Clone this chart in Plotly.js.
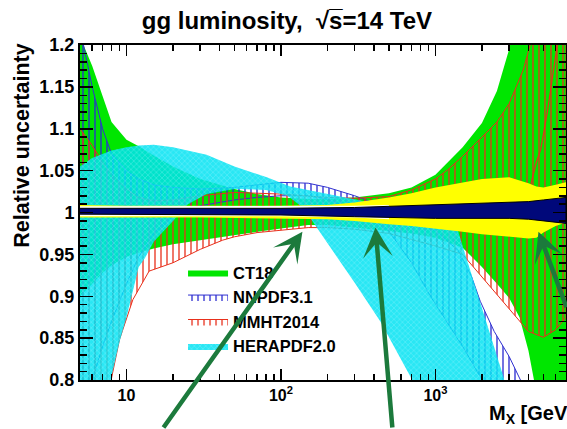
<!DOCTYPE html>
<html><head><meta charset="utf-8">
<script src="https://cdn.plot.ly/plotly-3.0.1.min.js"></script>
<style>html,body{margin:0;padding:0;background:#fff;}#chart{width:567px;height:429px;}</style>
</head><body><div id="chart"></div>
<script>
// ---- CT18 band ----
var ctUpM = [5,6,7,8,10,12,15,20,30,50,70,100,150,200,300,500,700,1000,1500,2000,2500,3000,3500,4000,5000,7000];
var ctUp  = [1.21,1.175,1.139,1.108,1.087,1.079,1.068,1.055,1.04,1.028,1.022,1.018,1.016,1.016,1.018,1.023,1.03,1.045,1.078,1.107,1.145,1.195,1.25,1.3,1.4,1.5];
var ctLoM = [5,6,7,8,10,12,15,20,30,50,70,100,150,200,300,500,700,1000,1500,2000,2500,3000,3500,4000,5000,7000];
var ctLo  = [0.9,0.915,0.928,0.937,0.947,0.952,0.957,0.962,0.967,0.973,0.977,0.981,0.985,0.985,0.982,0.978,0.975,0.97,0.958,0.935,0.915,0.898,0.875,0.835,0.74,0.6];
// ---- NNPDF3.1 band ----
var nnUpM = [5,6,7,8,10,12,15,20,30,50,70,100,150,200,300,500,700,1000,1400,1700,1950,2400,3000,3550,4500,7000];
var nnUp  = [1.22,1.15,1.1,1.07,1.05,1.04,1.033,1.03,1.028,1.03,1.033,1.036,1.035,1.03,1.02,1.005,0.995,0.978,0.955,0.925,0.894,0.858,0.828,0.8,0.75,0.65];
var nnLoM = [5,6,7,8,10,12,15,20,30,50,70,100,150,200,300,489,700,928,1500,1950,2500,7000];
var nnLo  = [0.75,0.8,0.84,0.87,0.915,0.947,0.975,0.995,1.008,1.015,1.018,1.02,1.02,1.016,1.002,0.98,0.94,0.9,0.84,0.804,0.77,0.6];
// ---- MMHT2014 band ----
var mmUpM = [5,6,7,8,10,12,15,20,30,50,100,200,300,500,700,1000,1200,1500,2000,2500,3000,3700,4100,4500,5000,6000,7000];
var mmUp  = [1.1,1.08,1.06,1.045,1.028,1.018,1.014,1.015,1.02,1.024,1.022,1.018,1.017,1.019,1.027,1.04,1.051,1.067,1.09,1.108,1.13,1.17,1.2,1.25,1.3,1.4,1.5];
var mmLoM = [5,6,7,8,9,11,14,20,30,42,50,70,100,150,200,300,500,700,1000,1500,2000,2925,4000,5000,6000,7000];
var mmLo  = [0.6,0.68,0.75,0.805,0.848,0.896,0.93,0.94,0.956,0.967,0.971,0.976,0.979,0.982,0.982,0.98,0.975,0.968,0.96,0.95,0.922,0.887,0.858,0.851,0.86,0.875];
var mm2M  = [4000,4100,4500,4800,5300,5800,6200,7000];
var mm2   = [1.025,1.03,1.06,1.075,1.12,1.17,1.205,1.3];
// ---- HERAPDF2.0 band ----
var hpUpM = [5,6,8,10,12,15,20,33,50,81,115,243,489,800,1000,1388,2000,2755,3500];
var hpUp  = [1.055,1.065,1.074,1.078,1.08,1.081,1.078,1.069,1.055,1.042,1.031,1.019,1.007,1.0,0.995,0.98,0.886,0.804,0.72];
var hpLoM = [5,6,7,7.9,9,10,12,13.2,15,20,25,33,50,80,110,130,150,165,209,300,440,689,900];
var hpLo  = [0.7,0.73,0.77,0.8,0.845,0.875,0.935,0.946,0.965,0.99,1.01,1.022,1.028,1.027,1.02,1.01,0.997,0.985,0.958,0.916,0.87,0.804,0.75];
// ---- yellow / white / navy central bands ----
var yeM  = [5,10,30,100,200,300,500,700,1000,1500,2000,3000,4000,4500,5000,6000,7000];
var yeUp = [1.009,1.008,1.008,1.008,1.009,1.012,1.018,1.023,1.03,1.036,1.04,1.042,1.035,1.031,1.03,1.033,1.036];
var yeLo = [0.994,0.994,0.994,0.993,0.992,0.99,0.986,0.984,0.981,0.977,0.974,0.971,0.969,0.97,0.976,0.984,0.988];
var whM  = [5,100,300,500];
var whUp = [1.0075,1.0075,1.008,1.009];
var whLo = [0.9955,0.9955,0.994,0.992];
var nvM  = [5,100,300,1000,2000,3000,4000,5000,7000];
var nvUp = [1.005,1.005,1.006,1.009,1.011,1.012,1.013,1.015,1.018];
var nvLo = [0.998,0.997,0.995,0.993,0.993,0.993,0.992,0.99,0.987];

var xTickVals = [10,100,1000];
var xTickText = ['10','10<sup>2</sup>','10<sup>3</sup>'];
var xMinor = [6,7,8,9,20,30,40,50,60,70,80,90,200,300,400,500,600,700,800,900,2000,3000,4000,5000,6000,7000];
var yTickVals = [0.8,0.85,0.9,0.95,1.0,1.05,1.1,1.15,1.2];
var yTickText = ['0.8','0.85','0.9','0.95','1','1.05','1.1','1.15','1.2'];

function band(xu, yu, xl, yl) {
  return {x: xu.concat(xl.slice().reverse()), y: yu.concat(yl.slice().reverse())};
}
var FONT = 'Liberation Sans, Arial, Helvetica, sans-serif';

var bCT = band(ctUpM, ctUp, ctLoM, ctLo);
var bNN = band(nnUpM, nnUp, nnLoM, nnLo);
var bMM = band(mmUpM, mmUp, mmLoM, mmLo);
var bHP = band(hpUpM, hpUp, hpLoM, hpLo);
var bYE = band(yeM, yeUp, yeM, yeLo);
var bWH = band(whM, whUp, whM, whLo);
var bNV = band(nvM, nvUp, nvM, nvLo);

var traces = [
  {x: bCT.x, y: bCT.y, type:'scatter', mode:'lines', fill:'toself', fillcolor:'#00e600',
   line:{width:0, color:'#00e600'}, name:'<b>CT18</b>', hoverinfo:'skip'},
  {x: bNN.x, y: bNN.y, type:'scatter', mode:'lines', fill:'toself', fillcolor:'rgba(0,0,0,0)',
   fillpattern:{shape:'|', fgcolor:'#2a2ad0', size:6, solidity:0.22},
   line:{width:1, color:'#3030d0'}, name:'<b>NNPDF3.1</b>', hoverinfo:'skip'},
  {x: bMM.x, y: bMM.y, type:'scatter', mode:'lines', fill:'toself', fillcolor:'rgba(0,0,0,0)',
   fillpattern:{shape:'|', fgcolor:'#e8301c', size:6, solidity:0.22},
   line:{width:1, color:'#e8301c'}, name:'<b>MMHT2014</b>', hoverinfo:'skip'},
  {x: mm2M, y: mm2, type:'scatter', mode:'lines', line:{width:1.2, color:'#e8301c'},
   showlegend:false, hoverinfo:'skip'},
  {x: bHP.x, y: bHP.y, type:'scatter', mode:'lines', fill:'toself', fillcolor:'rgba(0,226,242,0.84)',
   fillpattern:{shape:'x', fgcolor:'rgba(170,245,255,0.8)', bgcolor:'rgba(0,226,242,0.84)', size:4, solidity:0.3, fillmode:'overlay'},
   line:{width:0, color:'rgba(0,226,242,0.84)'}, name:'<b>HERAPDF2.0</b>', hoverinfo:'skip'},
  {x: bYE.x, y: bYE.y, type:'scatter', mode:'lines', fill:'toself', fillcolor:'#ffff00',
   line:{width:0, color:'#ffff00'}, showlegend:false, hoverinfo:'skip'},
  {x: bWH.x, y: bWH.y, type:'scatter', mode:'lines', fill:'toself', fillcolor:'#ffffff',
   line:{width:0, color:'#ffffff'}, showlegend:false, hoverinfo:'skip'},
  {x: bNV.x, y: bNV.y, type:'scatter', mode:'lines', fill:'toself', fillcolor:'#00087a',
   line:{width:1, color:'#000000'}, showlegend:false, hoverinfo:'skip'}
];

var arrowColor = '#1c7a3c';
var layout = {
  width:567, height:429,
  margin:{l:80, r:1, t:45, b:49},
  paper_bgcolor:'#ffffff', plot_bgcolor:'#ffffff',
  font:{family:FONT, color:'#000'},
  title:{text:'gg luminosity,\u00a0\u00a0\u221as\u0305=14 TeV',
         font:{size:24, weight:'bold', family:FONT, color:'#000'},
         x:0.506, xref:'container', xanchor:'center', y:0.953, yref:'container', yanchor:'middle'},
  xaxis:{type:'log', range:[Math.log10(5), Math.log10(7000)], tickmode:'array', tickvals:xTickVals, ticktext:xTickText,
         ticks:'inside', ticklen:11, tickwidth:1.5, tickcolor:'#000', showline:true, linewidth:2, linecolor:'#000',
         mirror:'ticks', showgrid:false, zeroline:false,
         tickfont:{size:16, weight:'bold', family:FONT, color:'#000'},
         minor:{tickmode:'array', tickvals:xMinor, ticks:'inside', ticklen:6, tickwidth:1.5, tickcolor:'#000', showgrid:false}},
  yaxis:{range:[0.8,1.2], tickmode:'array', tickvals:yTickVals, ticktext:yTickText,
         ticks:'inside', ticklen:13, tickwidth:1.5, tickcolor:'#000', showline:true, linewidth:2, linecolor:'#000',
         mirror:'ticks', showgrid:false, zeroline:false,
         tickfont:{size:18, weight:'bold', family:FONT, color:'#000'},
         minor:{dtick:0.01, tick0:0.8, ticks:'inside', ticklen:7, tickwidth:1.5, tickcolor:'#000', showgrid:false}},
  showlegend:true,
  legend:{x:0.212, y:0.372, xanchor:'left', yanchor:'top', bgcolor:'rgba(0,0,0,0)', borderwidth:0,
          font:{size:16.5, family:FONT, color:'#000'}, itemwidth:40, traceorder:'normal'},
  annotations:[
    {text:'Relative uncertainty', textangle:-90, showarrow:false, xref:'paper', yref:'paper',
     x:-0.121, y:0.700, xanchor:'center', yanchor:'middle', font:{size:21.5, weight:'bold', family:FONT, color:'#000'}},
    {text:'M<sub>X</sub> [GeV]', showarrow:false, xref:'paper', yref:'paper', x:0.837, y:-0.1015,
     xanchor:'left', yanchor:'middle', font:{size:20, weight:'bold', family:FONT, color:'#000'}},
    {text:'', x:Math.log10(137.7), y:0.977, xref:'x', yref:'y', showarrow:true, ax:-140, ay:206,
     arrowcolor:arrowColor, arrowwidth:4.5, arrowhead:3, arrowsize:1.1},
    {text:'', x:Math.log10(409), y:0.982, xref:'x', yref:'y', showarrow:true, ax:17, ay:210,
     arrowcolor:arrowColor, arrowwidth:4.5, arrowhead:3, arrowsize:1.1},
    {text:'', x:Math.log10(4645), y:0.977, xref:'x', yref:'y', showarrow:true, ax:37, ay:77,
     arrowcolor:arrowColor, arrowwidth:4.5, arrowhead:3, arrowsize:1.1}
  ]
};
Plotly.newPlot('chart', traces, layout, {displayModeBar:false, staticPlot:true});
</script></body></html>
